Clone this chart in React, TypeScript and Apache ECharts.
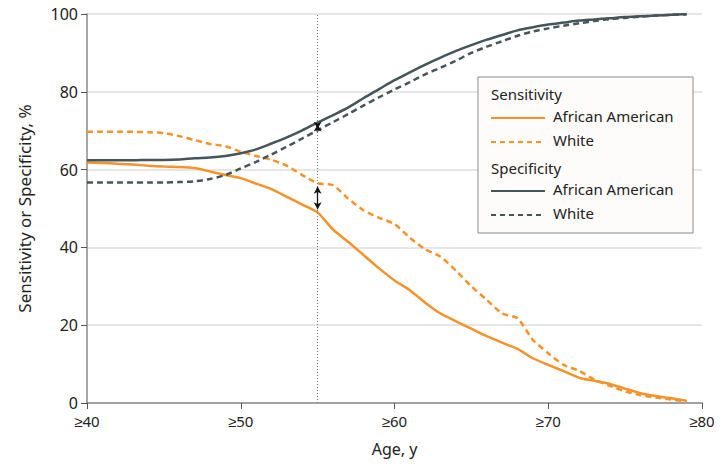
import React, { useEffect, useRef } from "react";
import * as echarts from "echarts";

const ages = [40,41,42,43,44,45,46,47,48,49,50,51,52,53,54,55,56,57,58,59,60,61,62,63,64,65,66,67,68,69,70,71,72,73,74,75,76,77,78,79];

const sensAA = [61.8,61.7,61.5,61.3,61.0,60.8,60.7,60.4,59.5,58.6,57.8,56.4,55.0,53.0,51.0,49.0,44.6,41.4,38.0,34.6,31.5,29.0,25.8,23.0,21.0,19.1,17.2,15.5,13.9,11.5,9.8,8.2,6.5,5.7,4.9,3.7,2.5,1.8,1.2,0.6];
const sensWhite = [69.7,69.7,69.7,69.7,69.6,69.4,68.6,67.6,66.6,66.0,64.6,63.5,62.5,61.0,58.6,56.5,56.0,52.5,49.5,47.6,46.0,42.5,39.5,37.6,34.0,30.0,26.5,23.0,21.8,16.2,12.8,9.8,8.3,6.0,4.4,3.0,2.0,1.4,0.9,0.4];
const specAA = [62.4,62.4,62.4,62.4,62.5,62.5,62.6,62.9,63.1,63.5,64.2,65.2,66.7,68.3,70.1,72.1,74.0,76.0,78.4,80.7,83.0,85.0,87.0,88.8,90.5,92.0,93.4,94.6,95.8,96.6,97.3,97.8,98.3,98.6,98.9,99.2,99.4,99.6,99.8,100];
const specWhite = [56.7,56.7,56.7,56.7,56.7,56.7,56.8,57.0,57.6,58.6,60.3,62.0,63.9,65.9,68.0,70.1,72.2,74.3,76.5,78.6,80.6,82.5,84.5,86.2,88.0,90.0,91.6,93.0,94.4,95.5,96.3,97.0,97.6,98.2,98.7,99.0,99.3,99.6,99.8,99.9];

const xTicks = [40, 50, 60, 70, 80];
const yTicks = [0, 20, 40, 60, 80, 100];
const cutoffAge = 55;
const sensArrow = [55.6, 49.8];
const specArrow = [71.6, 70.5];

const ORANGE = "#F5922A";
const SLATE = "#46555A";
const FONT = "'Noto Sans', sans-serif";
const TEXT = "#222222";

const pairs = (ys: number[]) => ages.map((a, i) => [a, ys[i]]);

export default function App() {
  const ref = useRef<HTMLDivElement>(null);
  useEffect(() => {
    if (!ref.current) return;
    const chart = echarts.init(ref.current, null, { renderer: "svg" });
    const lx = 478, ly = 77;
    const legendItems = [
      { type: "text", left: lx + 13, top: ly + 9, style: { text: "Sensitivity", font: `15px ${FONT}`, fill: TEXT } },
      { type: "line", shape: { x1: lx + 13, y1: ly + 41, x2: lx + 67, y2: ly + 41 }, style: { stroke: ORANGE, lineWidth: 2 } },
      { type: "text", left: lx + 75, top: ly + 31, style: { text: "African American", font: `15px ${FONT}`, fill: TEXT } },
      { type: "line", shape: { x1: lx + 13, y1: ly + 65, x2: lx + 67, y2: ly + 65 }, style: { stroke: ORANGE, lineWidth: 2, lineDash: [5, 4] } },
      { type: "text", left: lx + 75, top: ly + 55, style: { text: "White", font: `15px ${FONT}`, fill: TEXT } },
      { type: "text", left: lx + 13, top: ly + 83, style: { text: "Specificity", font: `15px ${FONT}`, fill: TEXT } },
      { type: "line", shape: { x1: lx + 13, y1: ly + 114, x2: lx + 67, y2: ly + 114 }, style: { stroke: SLATE, lineWidth: 2 } },
      { type: "text", left: lx + 75, top: ly + 104, style: { text: "African American", font: `15px ${FONT}`, fill: TEXT } },
      { type: "line", shape: { x1: lx + 13, y1: ly + 138, x2: lx + 67, y2: ly + 138 }, style: { stroke: SLATE, lineWidth: 2, lineDash: [5, 4] } },
      { type: "text", left: lx + 75, top: ly + 128, style: { text: "White", font: `15px ${FONT}`, fill: TEXT } },
    ];
    chart.setOption({
      animation: false,
      backgroundColor: "#ffffff",
      grid: { left: 87, right: 20, top: 14, bottom: 64, containLabel: false },
      xAxis: {
        type: "value",
        min: xTicks[0],
        max: xTicks[xTicks.length - 1],
        interval: 10,
        name: "Age, y",
        nameLocation: "middle",
        nameGap: 38,
        nameTextStyle: { fontFamily: FONT, fontSize: 16, color: TEXT },
        axisLine: { show: true, lineStyle: { color: "#8a8a8a", width: 1.5 } },
        axisTick: { show: true, length: 6, lineStyle: { color: "#555" } },
        axisLabel: { formatter: (v: number) => "≥" + v, fontFamily: FONT, fontSize: 15, color: TEXT, margin: 10 },
        splitLine: { show: false },
      },
      yAxis: {
        type: "value",
        min: yTicks[0],
        max: yTicks[yTicks.length - 1],
        interval: 20,
        name: "Sensitivity or Specificity, %",
        nameLocation: "middle",
        nameGap: 54,
        nameTextStyle: { fontFamily: FONT, fontSize: 17, color: TEXT },
        axisLine: { show: true, lineStyle: { color: "#8a8a8a", width: 1.5 } },
        axisTick: { show: true, length: 6, lineStyle: { color: "#555" } },
        axisLabel: { fontFamily: FONT, fontSize: 16, color: TEXT, margin: 9 },
        splitLine: { show: true, lineStyle: { color: "#dedede", width: 1.5 } },
      },
      series: [
        {
          name: "Specificity White", type: "line", data: pairs(specWhite), showSymbol: false, smooth: 0.3,
          lineStyle: { color: SLATE, width: 2.5, type: [6, 4] }, z: 3,
          markLine: {
            silent: true, symbol: ["none", "none"], label: { show: false },
            lineStyle: { color: "#777", width: 1, type: [1, 2] },
            data: [{ xAxis: cutoffAge }],
          },
        },
        {
          name: "Specificity African American", type: "line", data: pairs(specAA), showSymbol: false, smooth: 0.3,
          lineStyle: { color: SLATE, width: 2.5 }, z: 3,
        },
        {
          name: "Sensitivity White", type: "line", data: pairs(sensWhite), showSymbol: false, smooth: 0.2,
          lineStyle: { color: ORANGE, width: 2.5, type: [6, 4] }, z: 2,
        },
        {
          name: "Sensitivity African American", type: "line", data: pairs(sensAA), showSymbol: false, smooth: 0.2,
          lineStyle: { color: ORANGE, width: 2.5 }, z: 2,
          markLine: {
            silent: true, symbol: ["arrow", "arrow"], symbolSize: [6, 7], label: { show: false },
            lineStyle: { color: "#111", width: 1.3, type: "solid" },
            data: [
              [{ coord: [cutoffAge, sensArrow[0]] }, { coord: [cutoffAge, sensArrow[1]] }],
              [{ coord: [cutoffAge, specArrow[0]] }, { coord: [cutoffAge, specArrow[1]] }],
            ],
          },
        },
      ],
      graphic: [
        {
          type: "rect", shape: { x: lx, y: ly, width: 215, height: 156 },
          style: { fill: "#fdfcfa", stroke: "#8a8a8a", lineWidth: 1 }, z: 10,
        },
        ...legendItems.map((g) => ({ ...g, z: 11 })),
      ],
    });
    return () => chart.dispose();
  }, []);
  return <div ref={ref} style={{ width: 722, height: 467, margin: -8 }} />;
}
